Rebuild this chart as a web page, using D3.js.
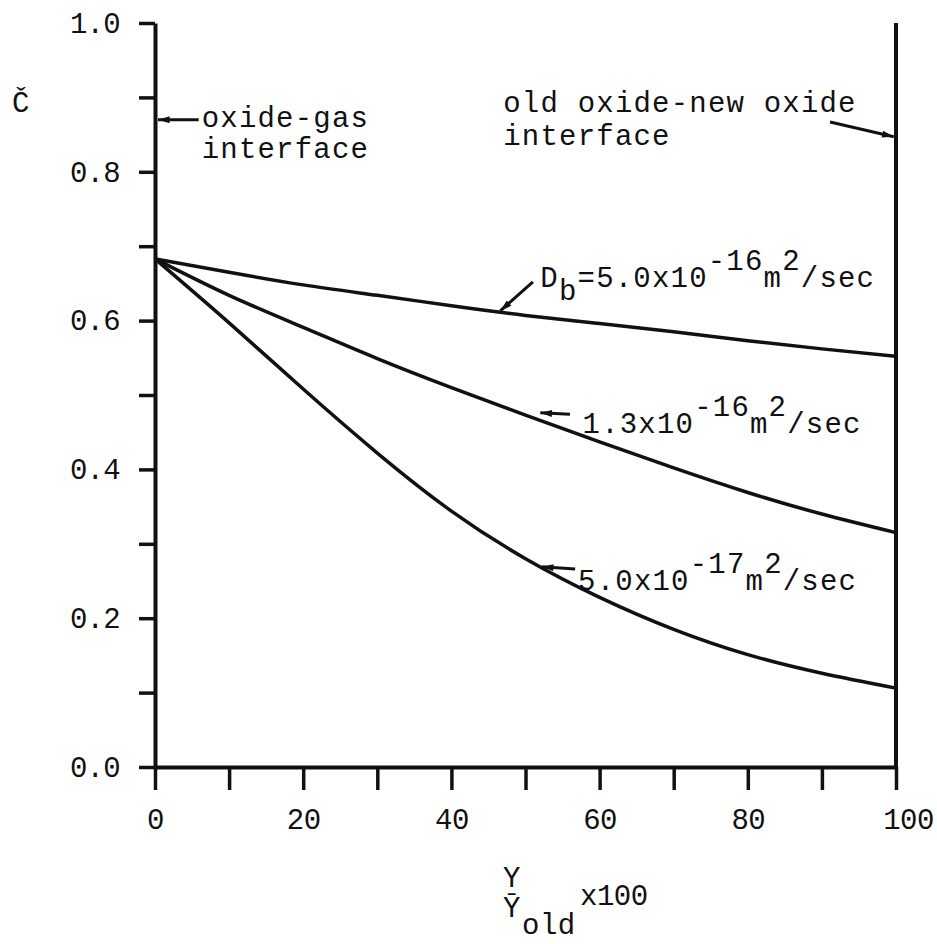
<!DOCTYPE html>
<html>
<head>
<meta charset="utf-8">
<script src="https://cdn.jsdelivr.net/npm/d3@7"></script>
<style>
  body { margin: 0; background: #fff; }
  text { font-family: "Liberation Mono", monospace; fill: #111; }
</style>
</head>
<body>
<svg id="chart" width="937" height="944"></svg>
<script>
// position through the oxide (Y/Yold x100)
const yPos = [0, 10, 20, 30, 40, 50, 60, 70, 80, 90, 100];

// concentration C for the three diffusivities
const cHigh = [0.683, 0.665, 0.648, 0.634, 0.620, 0.607, 0.596, 0.585, 0.573, 0.562, 0.552]; // 5.0e-16
const cMid  = [0.683, 0.634, 0.591, 0.549, 0.510, 0.473, 0.437, 0.402, 0.369, 0.340, 0.315]; // 1.3e-16
const cLow  = [0.683, 0.597, 0.508, 0.422, 0.344, 0.280, 0.228, 0.185, 0.151, 0.126, 0.106]; // 5.0e-17

const xTicks = [0, 10, 20, 30, 40, 50, 60, 70, 80, 90, 100];
const xTickLabels = ["0", "", "20", "", "40", "", "60", "", "80", "", "100"];
const yTicks = [0, 0.1, 0.2, 0.3, 0.4, 0.5, 0.6, 0.7, 0.8, 0.9, 1.0];
const yTickLabels = ["0.0", "", "0.2", "", "0.4", "", "0.6", "", "0.8", "", "1.0"];

const svg = d3.select("#chart");

const x = d3.scaleLinear().domain([0, 100]).range([155, 896]);
const y = d3.scaleLinear().domain([0, 1]).range([767, 23]);

// arrow head
svg.append("defs").append("marker")
  .attr("id", "head")
  .attr("viewBox", "0 0 10 6")
  .attr("refX", 10).attr("refY", 3)
  .attr("markerWidth", 16).attr("markerHeight", 7)
  .attr("markerUnits", "userSpaceOnUse")
  .attr("orient", "auto")
  .append("path")
  .attr("d", "M0,0 L10,3 L0,6 Z")
  .attr("fill", "#111");

// bottom axis
const gx = svg.append("g")
  .attr("transform", `translate(0,${y(0)})`)
  .call(d3.axisBottom(x)
    .tickValues(xTicks)
    .tickSize(23)
    .tickSizeOuter(0)
    .tickPadding(18)
    .tickFormat((d, i) => xTickLabels[i]));

// left axis
const gy = svg.append("g")
  .attr("transform", `translate(${x(0)},0)`)
  .call(d3.axisLeft(y)
    .tickValues(yTicks)
    .tickSize(16)
    .tickSizeOuter(0)
    .tickPadding(19)
    .tickFormat((d, i) => yTickLabels[i]));

[gx, gy].forEach(g => {
  g.attr("font-family", null).attr("font-size", null);
  g.select(".domain").attr("stroke", "#111").attr("stroke-width", 4);
  g.selectAll(".tick line").attr("stroke", "#111").attr("stroke-width", 3.5);
  g.selectAll(".tick text").attr("font-size", 29).attr("fill", "#111");
});
gx.selectAll(".tick text").attr("letter-spacing", -0.5);
// the typed "100" sits a bit right of its tick
gx.selectAll(".tick text").filter(d => d === 100).attr("dx", 12);
gy.selectAll(".tick text").attr("letter-spacing", -0.7);

// right border (old oxide - new oxide interface)
svg.append("line")
  .attr("x1", x(100)).attr("x2", x(100))
  .attr("y1", y(0)).attr("y2", y(1))
  .attr("stroke", "#111").attr("stroke-width", 4);

// curves
const line = d3.line()
  .x((d, i) => x(yPos[i]))
  .y(d => y(d))
  .curve(d3.curveNatural);

[cHigh, cMid, cLow].forEach(s => {
  svg.append("path")
    .attr("d", line(s))
    .attr("fill", "none")
    .attr("stroke", "#111")
    .attr("stroke-width", 3.5);
});

// label helper: parts with sub / sup shifts
function label(px, py, parts) {
  const t = svg.append("text")
    .attr("x", px).attr("y", py)
    .attr("font-size", 29)
    .attr("letter-spacing", 1.2);
  let shift = 0;
  parts.forEach(p => {
    const target = p.sup ? -17 : p.sub ? 13 : 0;
    t.append("tspan").attr("dy", target - shift).text(p.t);
    shift = target;
  });
  return t;
}

function arrow(x1, y1, x2, y2) {
  svg.append("line")
    .attr("x1", x(x1)).attr("y1", y(y1))
    .attr("x2", x(x2)).attr("y2", y(y2))
    .attr("stroke", "#111").attr("stroke-width", 3)
    .attr("marker-end", "url(#head)");
}

// y axis title
svg.append("text").attr("x", 12).attr("y", 112)
  .attr("font-size", 29).text("Č");

// interface notes
label(x(6.3), y(0.860), [{ t: "oxide-gas" }]);
label(x(6.3), y(0.819), [{ t: "interface" }]);
arrow(5.9, 0.870, 0.4, 0.870);

label(x(47.0), y(0.880), [{ t: "old oxide-new oxide" }]);
label(x(47.0), y(0.836), [{ t: "interface" }]);
arrow(91.1, 0.867, 99.7, 0.847);

// curve labels
label(x(52.0), y(0.645), [
  { t: "D" }, { t: "b", sub: true }, { t: "=5.0x10" }, { t: "-16", sup: true },
  { t: "m" }, { t: "2", sup: true }, { t: "/sec" }
]);
arrow(51.0, 0.652, 46.6, 0.613);

label(x(57.7), y(0.449), [
  { t: "1.3x10" }, { t: "-16", sup: true }, { t: "m" }, { t: "2", sup: true }, { t: "/sec" }
]);
arrow(56.0, 0.474, 52.0, 0.476);

label(x(57.1), y(0.238), [
  { t: "5.0x10" }, { t: "-17", sup: true }, { t: "m" }, { t: "2", sup: true }, { t: "/sec" }
]);
arrow(56.7, 0.266, 52.2, 0.269);

// x axis title: Y / Ybar_old x100
const xt = svg.append("g");
xt.append("text").attr("x", 503).attr("y", 887).attr("font-size", 29).text("Y");
xt.append("text").attr("x", 503).attr("y", 917).attr("font-size", 29).text("Ȳ");
xt.append("text").attr("x", 522).attr("y", 934).attr("font-size", 29).attr("letter-spacing", 0.5).text("old");
xt.append("text").attr("x", 580).attr("y", 905).attr("font-size", 29).attr("letter-spacing", -0.5).text("x100");
</script>
</body>
</html>
